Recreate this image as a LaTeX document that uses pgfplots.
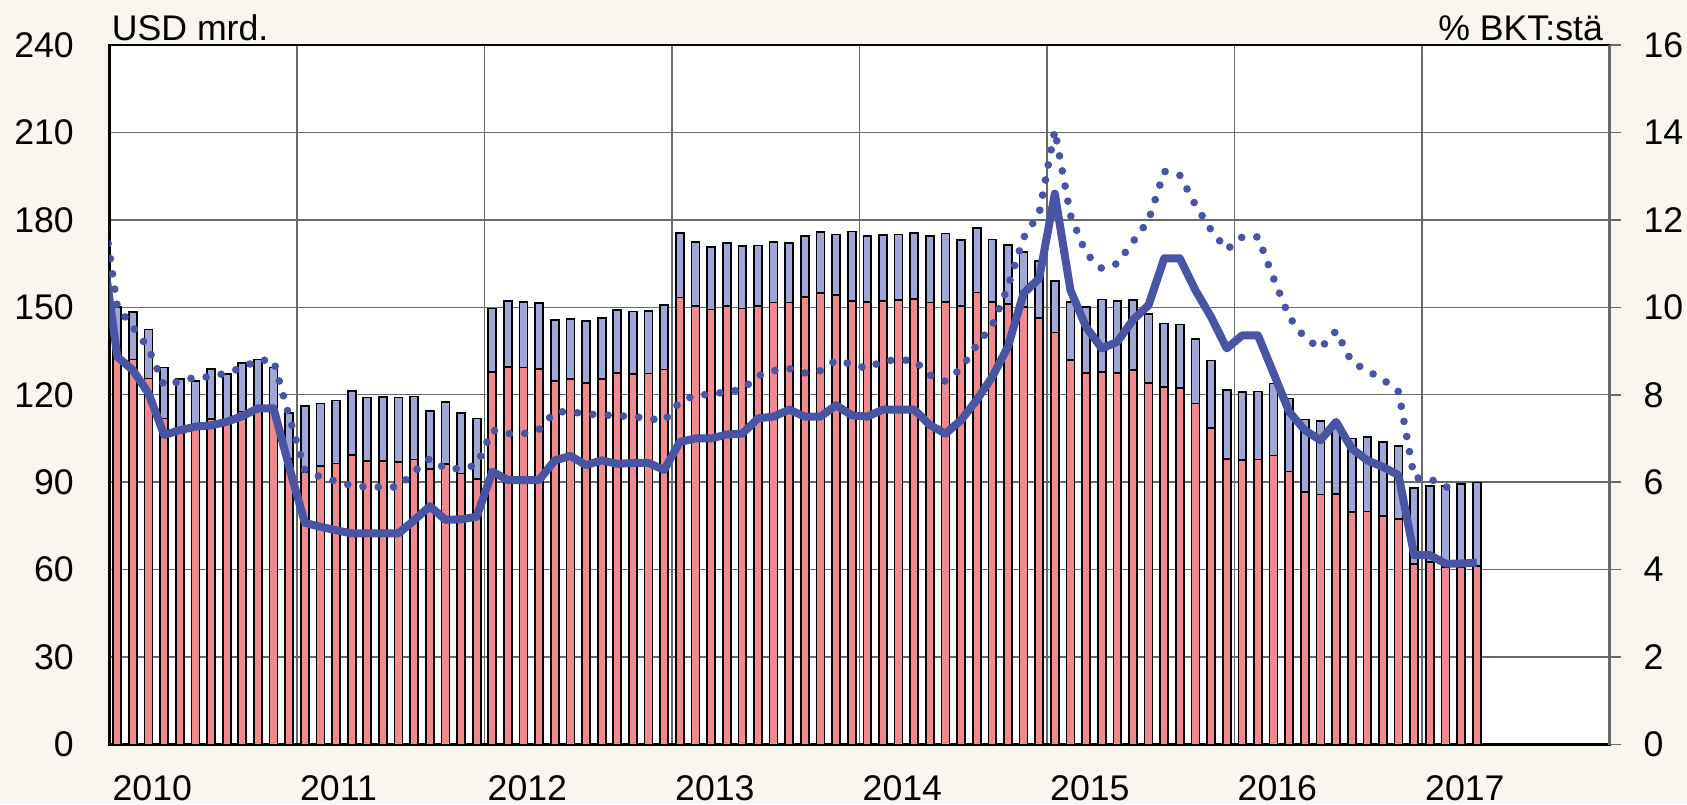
\documentclass[border=0pt]{standalone}
\usepackage{fontspec}
\setmainfont{Liberation Sans}
\usepackage{pgfplots}
\usepackage{pgfplotstable}
\pgfplotsset{compat=1.18}
\definecolor{bg}{RGB}{249,245,239}
\definecolor{barred}{RGB}{240,138,142}
\definecolor{barblue}{RGB}{160,167,214}
\definecolor{linecol}{RGB}{74,84,164}
\definecolor{gridcol}{RGB}{105,105,105}

\pgfplotstableread{
i total red
0 150.2 136.0
1 148.5 132.1
2 142.4 125.6
3 129.4 111.9
4 125.3 108.0
5 124.8 109.0
6 128.9 111.6
7 127.1 111.5
8 131.0 114.2
9 132.1 115.5
10 129.3 116.0
11 113.8 98.0
12 116.1 93.6
13 117.0 95.6
14 118.0 96.4
15 121.2 99.3
16 119.0 97.3
17 119.2 97.3
18 119.1 97.0
19 119.4 97.8
20 114.5 94.5
21 117.6 96.2
22 113.8 93.0
23 111.9 91.1
24 149.6 127.7
25 152.2 129.6
26 151.8 129.3
27 151.4 128.9
28 145.6 124.7
29 146.1 125.5
30 145.2 124.0
31 146.3 125.3
32 149.1 127.5
33 148.6 127.1
34 148.8 127.3
35 150.8 128.7
36 175.5 153.4
37 172.4 150.5
38 170.8 149.2
39 172.0 150.5
40 171.1 149.6
41 171.2 150.4
42 172.3 151.6
43 172.1 151.7
44 174.5 153.6
45 175.8 155.0
46 175.0 154.2
47 176.0 152.2
48 174.5 151.8
49 174.7 152.1
50 175.0 152.5
51 175.6 152.9
52 174.4 151.7
53 175.3 151.9
54 173.1 150.5
55 177.1 155.1
56 173.3 151.9
57 171.3 151.2
58 168.9 150.2
59 166.0 146.3
60 159.1 141.4
61 151.9 131.9
62 150.1 127.5
63 152.7 127.9
64 152.1 127.5
65 152.5 128.5
66 147.6 124.1
67 144.5 122.7
68 144.1 122.4
69 139.2 117.0
70 131.7 108.6
71 121.6 98.0
72 120.9 97.6
73 121.1 97.8
74 123.9 99.2
75 118.7 93.7
76 111.5 86.7
77 111.0 85.8
78 109.6 85.9
79 105.0 79.8
80 105.4 80.0
81 103.9 78.4
82 102.5 77.3
83 87.9 61.9
84 88.7 62.7
85 88.7 61.0
86 89.3 61.0
87 89.9 61.2
}\bars

\pgfplotstableread{
i solid dotted
-1 11.5 12.5
0 8.87 10.01
1 8.56 9.55
2 8.03 9.06
3 7.08 8.21
4 7.19 8.31
5 7.27 8.40
6 7.30 8.41
7 7.38 8.50
8 7.51 8.62
9 7.69 8.79
10 7.69 8.79
11 6.35 7.50
12 5.07 6.28
13 4.98 6.12
14 4.90 6.02
15 4.83 5.92
16 4.83 5.89
17 4.83 5.89
18 4.83 5.89
19 5.13 6.24
20 5.45 6.54
21 5.14 6.31
22 5.15 6.31
23 5.21 6.39
24 6.24 7.19
25 6.05 7.11
26 6.05 7.11
27 6.05 7.21
28 6.50 7.61
29 6.60 7.61
30 6.39 7.56
31 6.50 7.54
32 6.42 7.52
33 6.44 7.50
34 6.44 7.46
35 6.28 7.40
36 6.92 7.84
37 7.00 7.99
38 7.00 8.01
39 7.09 8.07
40 7.11 8.12
41 7.46 8.43
42 7.50 8.55
43 7.66 8.60
44 7.50 8.50
45 7.50 8.55
46 7.76 8.79
47 7.53 8.70
48 7.50 8.60
49 7.66 8.78
50 7.66 8.79
51 7.66 8.79
52 7.31 8.45
53 7.11 8.31
54 7.42 8.60
55 7.88 9.14
56 8.41 9.59
57 9.10 10.47
58 10.32 11.59
59 10.66 12.15
60 12.60 14.05
61 10.39 12.11
62 9.55 11.23
63 9.06 10.89
64 9.21 11.00
65 9.71 11.50
66 10.05 11.99
67 11.12 13.11
68 11.12 13.02
69 10.39 12.34
70 9.78 11.77
71 9.06 11.32
72 9.36 11.61
73 9.36 11.61
74 8.49 10.66
75 7.61 9.78
76 7.19 9.30
77 6.96 9.06
78 7.38 9.46
79 6.77 8.75
80 6.50 8.55
81 6.35 8.35
82 6.16 8.07
83 4.33 6.10
84 4.33 6.08
85 4.14 5.89
86 4.14 5.89
87 4.16 nan
}\lines

\pgfplotsset{
  base/.style={
    at={(0,0)}, anchor=south west, scale only axis,
    width=450pt, height=209.85pt,
    xmin=-0.5, xmax=95.5,
    every tick label/.append style={font=\fontsize{10.7}{12}\selectfont},
    /pgf/number format/assume math mode=true,
  }
}

\begin{document}
\begin{tikzpicture}
\path[fill=bg, use as bounding box] (-32.85pt,-17.85pt) rectangle (473.25pt,223.35pt);
\begin{axis}[base, name=main,
  ymin=0, ymax=240, ytick={0,30,...,240},
  xtick={-0.5,11.5,...,95.5},
  xticklabels={2010,2011,2012,2013,2014,2015,2016,2017,{}},
  major tick length=0pt,
  xmajorgrids, ymajorgrids,
  grid style={gridcol, line width=0.45pt},
  axis line style={black, line width=0.8pt},
  axis background/.style={fill=white},
  xticklabel style={anchor=north west, inner sep=0pt, xshift=0.75pt, yshift=-9.1pt},
  yticklabel style={anchor=east, inner sep=0pt, xshift=-10.5pt},
]
\addplot[ybar, bar width=0.51, bar shift=0pt, fill=barblue, draw=black, line width=0.5pt] table[x=i, y=total]{\bars};
\addplot[ybar, bar width=0.51, bar shift=0pt, fill=barred, draw=black, line width=0.5pt] table[x=i, y=red]{\bars};
\end{axis}
\begin{axis}[base,
  ymin=0, ymax=16, ytick={0,2,...,16},
  axis y line*=right, axis x line=none,
  tick align=outside, major tick length=3.3pt,
  ytick style={gridcol, line width=0.45pt},
  y axis line style={gridcol, line width=0.8pt},
  yticklabel style={anchor=west, inner sep=0pt, xshift=6.7pt},
]
\addplot[linecol, line width=2.4pt, line join=round] table[x=i, y=solid]{\lines};
\addplot[linecol, line width=2.3pt, line cap=round, dash pattern=on 0pt off 4.6pt] table[x=i, y=dotted]{\lines};
\end{axis}
\node[anchor=base west, inner sep=0pt, font=\fontsize{10.7}{12}\selectfont] at ([xshift=0.5pt, yshift=1.2pt]main.north west) {USD mrd.};
\node[anchor=base east, inner sep=0pt, font=\fontsize{10.7}{12}\selectfont] at ([xshift=-1.8pt, yshift=1.2pt]main.north east) {\% BKT:stä};
\end{tikzpicture}
\end{document}
